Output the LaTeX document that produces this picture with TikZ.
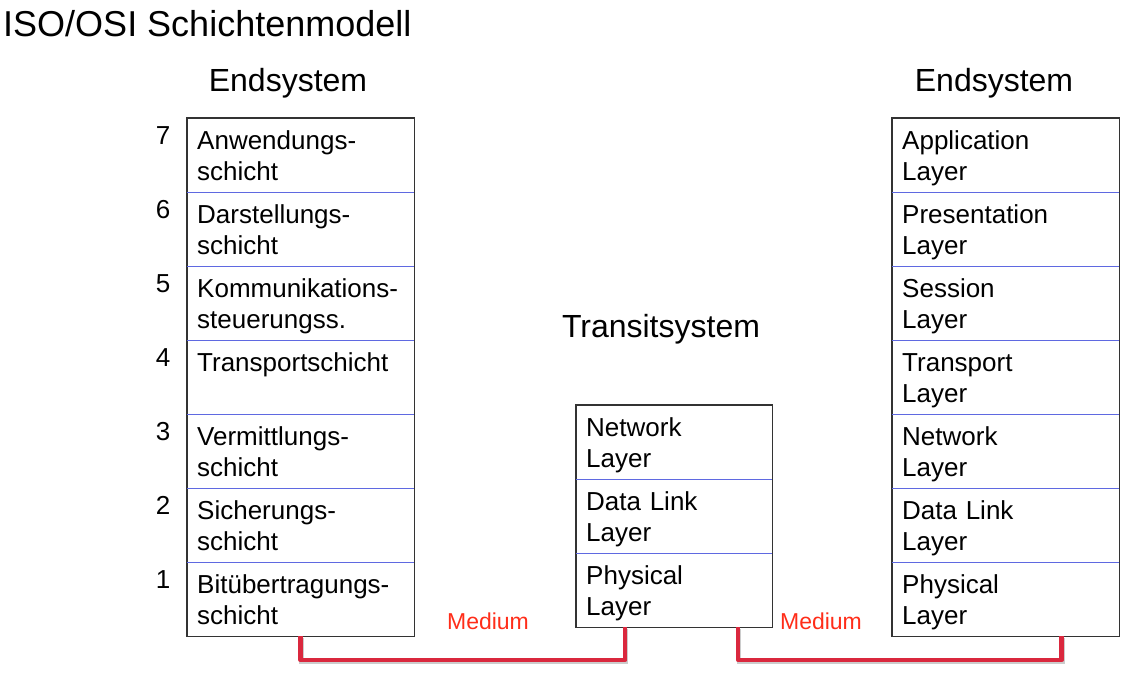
\documentclass[tikz,border=0pt]{standalone}
\usepackage{fontspec}
\setmainfont{Liberation Sans}
\usepackage{xcolor}
\usetikzlibrary{calc}
\definecolor{sepblue}{RGB}{95,105,225}
\definecolor{linkred}{RGB}{218,40,62}
\definecolor{medred}{RGB}{255,45,25}

\tikzset{
  layer/.style={minimum height=74pt,inner xsep=10pt,inner ysep=0pt,align=left,anchor=north west,
    font=\fontsize{26}{31}\selectfont,execute at begin node={\rule{0pt}{27pt}},
    execute at end node={\rule[-7pt]{0pt}{7pt}}},
  endlayer/.style={layer,text width=207pt},
  translayer/.style={layer,text width=176pt},
  num/.style={anchor=base,font=\fontsize{26}{31}\selectfont},
  head/.style={font=\fontsize{32}{38}\selectfont},
  frame/.style={draw=black!80,line width=1.5pt},
  sep/.style={draw=sepblue,line width=1pt},
  link/.style={draw=linkred,line width=4.5pt,line join=round,
    preaction={draw=black!20,line width=4.5pt,transform canvas={shift={(1pt,-2pt)}}}},
  medlabel/.style={text=medred,font=\fontsize{23}{27}\selectfont}
}

\begin{document}
\begin{tikzpicture}[x=1pt,y=-1pt]
\useasboundingbox (0,0) rectangle (1142,678);
\node[anchor=base west,font=\fontsize{36}{42}\selectfont,inner sep=0pt] (title) at (3,36) {ISO/OSI Schichtenmodell};

%% headings
\node[head] (lhead) at (288,83) {Endsystem};
\node[head] (rhead) at (994,83) {Endsystem};
\node[head] (thead) at (661,329) {Transitsystem};

%% left end system (german names)
\foreach \k/\txt in {7/{Anwendungs-\\schicht},6/{Darstellungs-\\schicht},5/{Kommunikations-\\steuerungss.},4/{Transportschicht\\\mbox{}},3/{Vermittlungs-\\schicht},2/{Sicherungs-\\schicht},1/{Bitübertragungs-\\schicht}}
  {\node[endlayer] (ls\k) at (187,{118+74*(7-\k)}) {\txt};
   \node[num] (n\k) at (163,{144+74*(7-\k)}) {\k};}
\draw[frame] (ls7.north west) rectangle (ls1.south east);
\foreach \k in {7,...,2}
  \draw[sep] (ls\k.south west) -- (ls\k.south east);

%% right end system
\foreach \k/\txt in {7/{Application\\Layer},6/{Presentation\\Layer},5/{Session\\Layer},4/{Transport\\Layer},3/{Network\\Layer},2/{Data Link\\Layer},1/{Physical\\Layer}}
  \node[endlayer] (rs\k) at (892,{118+74*(7-\k)}) {\txt};
\draw[frame] (rs7.north west) rectangle (rs1.south east);
\foreach \k in {7,...,2}
  \draw[sep] (rs\k.south west) -- (rs\k.south east);

%% transit system
\foreach \k/\txt in {3/{Network\\Layer},2/{Data Link\\Layer},1/{Physical\\Layer}}
  \node[translayer] (tr\k) at (576,{405+74*(3-\k)}) {\txt};
\draw[frame] (tr3.north west) rectangle (tr1.south east);
\foreach \k in {3,2}
  \draw[sep] (tr\k.south west) -- (tr\k.south east);

%% medium
\coordinate (bottom) at (0,660);
\draw[link] (ls1.south) -- (ls1.south |- bottom) -| ([xshift=-49pt]tr1.south);
\draw[link] ([xshift=64pt]tr1.south) -- ([xshift=64pt]tr1.south |- bottom) -| ([xshift=56pt]rs1.south);
\node[medlabel] (med1) at (488,621) {Medium};
\node[medlabel] (med2) at (821,621) {Medium};
\end{tikzpicture}
\end{document}
